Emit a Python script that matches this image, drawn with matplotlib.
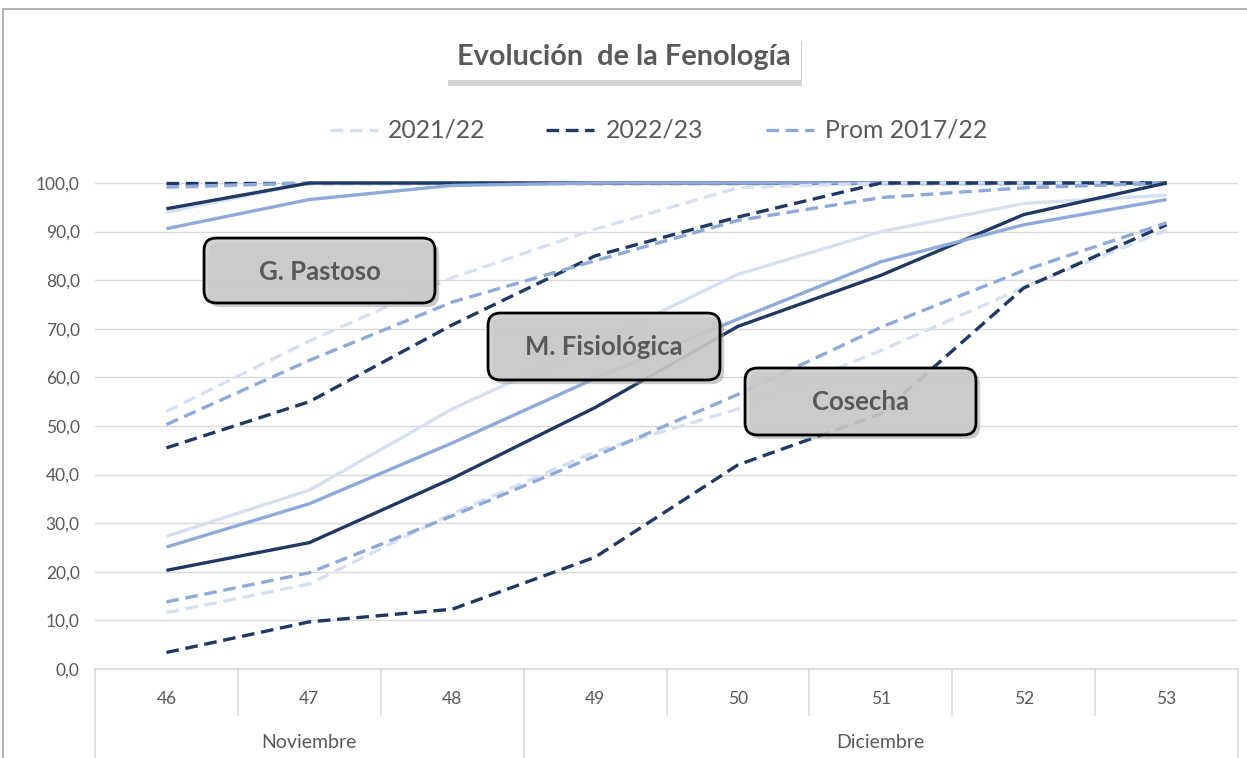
import matplotlib
matplotlib.use("Agg")
import matplotlib.pyplot as plt
from matplotlib.patches import FancyBboxPatch, Rectangle
from matplotlib.lines import Line2D
import matplotlib.patheffects as pe

# ---------------- data ----------------
weeks = ["46", "47", "48", "49", "50", "51", "52", "53"]
months = ["Noviembre", "Diciembre"]
month_spans = [(0, 3), (3, 8)]
seasons = ["2021/22", "2022/23", "Prom 2017/22"]

# Stage 1 (top, dashed)
top_dash_2122 = [99.0, 100.0, 100.0, 100.0, 100.0, 100.0, 100.0, 100.0]
top_dash_2223 = [100.0, 100.0, 100.0, 100.0, 100.0, 100.0, 100.0, 100.0]
top_dash_prom = [99.2, 100.0, 100.0, 100.0, 100.0, 100.0, 100.0, 100.0]
# Stage 2 (top, solid)
top_sol_2122 = [94.0, 100.0, 100.0, 100.0, 100.0, 100.0, 100.0, 100.0]
top_sol_2223 = [94.7, 100.0, 100.0, 100.0, 100.0, 100.0, 100.0, 100.0]
top_sol_prom = [90.6, 96.6, 99.5, 100.0, 100.0, 100.0, 100.0, 100.0]
# G. Pastoso (dashed)
gp_2122 = [53.0, 67.5, 80.5, 90.5, 99.0, 100.0, 100.0, 100.0]
gp_2223 = [45.5, 55.0, 70.8, 85.0, 93.0, 100.0, 100.0, 100.0]
gp_prom = [50.3, 63.5, 75.5, 84.0, 92.3, 97.0, 99.0, 100.0]
# M. Fisiologica (solid)
mf_2122 = [27.3, 36.8, 53.5, 67.0, 81.2, 90.0, 95.8, 97.5]
mf_2223 = [20.3, 26.0, 39.2, 53.8, 70.5, 81.0, 93.5, 100.0]
mf_prom = [25.1, 34.0, 46.5, 59.8, 72.0, 83.8, 91.4, 96.6]
# Cosecha (dashed)
co_2122 = [11.6, 17.5, 32.0, 44.7, 53.5, 65.5, 78.5, 90.3]
co_2223 = [3.4, 9.7, 12.3, 23.0, 42.0, 52.5, 78.4, 91.4]
co_prom = [13.8, 19.8, 31.5, 43.8, 56.5, 70.3, 82.0, 91.8]

yticks = [0, 10, 20, 30, 40, 50, 60, 70, 80, 90, 100]
title = "Evolución  de la Fenología"
stage_labels = ["G. Pastoso", "M. Fisiológica", "Cosecha"]

# ---------------- style ----------------
C_LIGHT = "#D6E0F3"
C_DARK = "#1F3864"
C_MED = "#8EAADB"
GRAY_TXT = "#595959"
GRID = "#D9D9D9"
FONT = ["Lato", "DejaVu Sans"]
plt.rcParams["font.family"] = FONT

W, H = 1247, 758
fig = plt.figure(figsize=(W / 100, H / 100), dpi=100)
fig.patch.set_facecolor("white")

def fx(px):
    return px / W

def fy(py):
    return 1 - py / H

ax_l, ax_r, ax_t, ax_b = 95, 1238, 183, 669
ax = fig.add_axes([fx(ax_l), fy(ax_b), fx(ax_r) - fx(ax_l), (ax_b - ax_t) / H])
ax.set_xlim(-0.5, len(weeks) - 0.5)
ax.set_ylim(0, 100)
for s in ["left", "right", "top"]:
    ax.spines[s].set_visible(False)
ax.spines["bottom"].set_color(GRID)
ax.spines["bottom"].set_linewidth(1.2)
ax.set_yticks(yticks)
ax.set_yticklabels([f"{v:.1f}".replace(".", ",") for v in yticks],
                   fontsize=12.5, color=GRAY_TXT)
ax.tick_params(axis="y", length=0, pad=11)
ax.set_xticks([])
ax.grid(axis="y", color=GRID, linewidth=1.0)
ax.set_axisbelow(True)

x = list(range(len(weeks)))
dash = (0, (3.8, 2.0))
lw = 2.4

series = [
    (top_dash_2122, C_LIGHT, dash), (top_dash_2223, C_DARK, dash), (top_dash_prom, C_MED, dash),
    (top_sol_2122, C_LIGHT, "-"), (top_sol_2223, C_DARK, "-"), (top_sol_prom, C_MED, "-"),
    (gp_2122, C_LIGHT, dash), (gp_2223, C_DARK, dash), (gp_prom, C_MED, dash),
    (mf_2122, C_LIGHT, "-"), (mf_2223, C_DARK, "-"), (mf_prom, C_MED, "-"),
    (co_2122, C_LIGHT, dash), (co_2223, C_DARK, dash), (co_prom, C_MED, dash),
]
for vals, col, ls in series:
    ax.plot(x, vals, color=col, linestyle=ls, linewidth=lw, clip_on=False,
            solid_capstyle="butt", dash_capstyle="butt", zorder=3)

# ---------------- multi-level category axis ----------------
band = (ax_r - ax_l) / len(weeks)
for k in range(len(weeks) + 1):
    xp = ax_l + k * band
    full = k in (0, 3, len(weeks))
    yend = 758 if full else 715
    fig.add_artist(Line2D([fx(xp), fx(xp)], [fy(ax_b), fy(yend)],
                          color=GRID, linewidth=1.2, transform=fig.transFigure))
for i, w in enumerate(weeks):
    fig.text(fx(ax_l + (i + 0.5) * band), fy(699), w, ha="center", va="center",
             fontsize=12.5, color=GRAY_TXT)
for (a, b), m in zip(month_spans, months):
    fig.text(fx(ax_l + (a + b) / 2 * band), fy(743), m, ha="center", va="center",
             fontsize=14, color=GRAY_TXT)

# chart border
fig.add_artist(Rectangle((fx(3), fy(1000)), 2, fy(9) - fy(1000), fill=False,
                         edgecolor="#A6A6A6", linewidth=1.2, transform=fig.transFigure))

# ---------------- title ----------------
shadow = [pe.SimplePatchShadow(offset=(1, -4), shadow_rgbFace="#7F7F7F", alpha=0.35), pe.Normal()]
tb = FancyBboxPatch((fx(447), fy(80)), fx(801) - fx(447), fy(35) - fy(80),
                    boxstyle="square,pad=0", facecolor="white", edgecolor="none",
                    transform=fig.transFigure, zorder=5)
tb.set_path_effects(shadow)
fig.add_artist(tb)
fig.text(fx(624), fy(57), title, ha="center", va="center", fontsize=20.8,
         fontweight="bold", color=GRAY_TXT, zorder=6)

# ---------------- legend ----------------
leg_items = [(330, 388, C_LIGHT, seasons[0]), (546, 606, C_DARK, seasons[1]),
             (766, 825, C_MED, seasons[2])]
for hx, tx, col, lab in leg_items:
    fig.add_artist(Line2D([fx(hx), fx(hx + 48)], [fy(130), fy(130)], color=col,
                          linewidth=lw, linestyle=dash, transform=fig.transFigure))
    fig.text(fx(tx), fy(130), lab, ha="left", va="center", fontsize=17.8,
             color=GRAY_TXT)

# ---------------- stage boxes ----------------
boxes = [(204, 238, 435, 303), (488, 313, 720, 380), (745, 368, 976, 435)]
for (x0, y0, x1, y1), lab in zip(boxes, stage_labels):
    p = FancyBboxPatch((fx(x0 + 10), fy(y1 - 10)), fx(x1 - 10) - fx(x0 + 10),
                       fy(y0 + 10) - fy(y1 - 10),
                       boxstyle="round,pad=0.008,rounding_size=0.01",
                       mutation_aspect=W / H,
                       facecolor=(0.80, 0.80, 0.80, 0.85), edgecolor="black",
                       linewidth=2.0, transform=fig.transFigure, zorder=7)
    p.set_path_effects([pe.SimplePatchShadow(offset=(3, -3), shadow_rgbFace="#999999",
                                             alpha=0.5), pe.Normal()])
    fig.add_artist(p)
    fig.text(fx((x0 + x1) / 2), fy((y0 + y1) / 2 + 1), lab, ha="center", va="center",
             fontsize=18.5, fontweight="bold", color=GRAY_TXT, zorder=8)

fig.savefig("out.png", dpi=100)
